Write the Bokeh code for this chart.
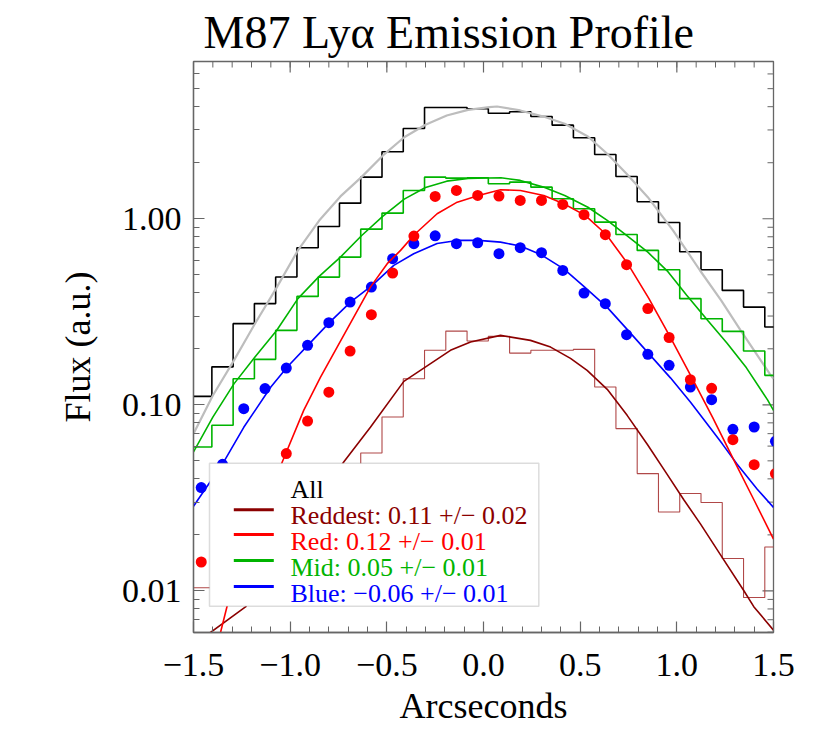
import math
import numpy as np
from bokeh.plotting import figure
from bokeh.models import (FixedTicker, CustomJSTickFormatter, BoxAnnotation, Label, Arrow)
from bokeh.embed import file_html
from bokeh.resources import INLINE

# ---------------- data ----------------
arcsec = [-1.46, -1.35, -1.24, -1.13, -1.02, -0.91, -0.80, -0.69, -0.58, -0.47,
          -0.36, -0.25, -0.14, -0.03, 0.08, 0.19, 0.30, 0.41, 0.52, 0.63,
          0.74, 0.85, 0.96, 1.07, 1.18, 1.29, 1.40, 1.51]

all_hist = [0.111, 0.160, 0.273, 0.350, 0.486, 0.699, 0.909, 1.213, 1.673, 2.290,
            3.055, 3.961, 3.961, 3.900, 3.690, 3.755, 3.543, 3.183, 2.723, 2.214,
            1.687, 1.234, 0.955, 0.665, 0.532, 0.412, 0.335, 0.262]

mid_hist = [0.0593, 0.0776, 0.1382, 0.1755, 0.2513, 0.3825, 0.4857, 0.622, 0.879, 1.072,
            1.419, 1.673, 1.652, 1.660, 1.542, 1.573, 1.478, 1.281, 1.132, 0.959,
            0.823, 0.676, 0.532, 0.372, 0.290, 0.248, 0.1945, 0.144]

reddest_hist = [0.0104, 0.012, 0.011, 0.016, 0.021, 0.026, 0.034, 0.041, 0.0551, 0.0860,
                0.1382, 0.1963, 0.249, 0.2201, 0.2333, 0.1897, 0.1963, 0.1963, 0.1987, 0.1246,
                0.0745, 0.0427, 0.02657, 0.03335, 0.02984, 0.01493, 0.00922, 0.01723]

red_pts = [0.0143, 0.019, 0.026, 0.037, 0.0547, 0.0818, 0.117, 0.1945, 0.305, 0.511,
           0.807, 1.318, 1.419, 1.334, 1.323, 1.254, 1.254, 1.193, 1.051, 0.821,
           0.566, 0.329, 0.230, 0.1365, 0.1227, 0.0650, 0.0477, 0.0427]

blue_pts = [0.0359, 0.0479, 0.0954, 0.1222, 0.1576, 0.2087, 0.2764, 0.3566, 0.4292, 0.6099,
            0.734, 0.810, 0.734, 0.743, 0.6486, 0.6986, 0.657, 0.5277, 0.3986, 0.3496,
            0.2382, 0.1867, 0.163, 0.1246, 0.1066, 0.0739, 0.076, 0.0637]

# fitted profiles
all_fit_x = [-1.50, -1.40, -1.29, -1.18, -1.07, -0.96, -0.85, -0.74, -0.63, -0.52,
             -0.41, -0.30, -0.19, -0.08, 0.03, 0.07, 0.19, 0.31, 0.42, 0.54,
             0.64, 0.74, 0.85, 0.98, 1.05, 1.12, 1.23, 1.33, 1.48, 1.50]
all_fit_y = [0.0700, 0.1122, 0.1738, 0.2754, 0.4266, 0.6761, 0.9772, 1.318, 1.679, 2.188,
             2.742, 3.199, 3.589, 3.846, 3.981, 4.009, 3.819, 3.540, 3.236, 2.767,
             2.234, 1.746, 1.306, 0.865, 0.676, 0.527, 0.363, 0.251, 0.147, 0.138]

mid_fit_x = [-1.50, -1.40, -1.29, -1.18, -1.07, -0.96, -0.85, -0.74, -0.63, -0.52,
             -0.41, -0.30, -0.19, -0.08, 0.02, 0.09, 0.19, 0.31, 0.42, 0.54,
             0.64, 0.74, 0.85, 0.95, 1.05, 1.16, 1.26, 1.36, 1.47, 1.50]
mid_fit_y = [0.0558, 0.0859, 0.130, 0.182, 0.251, 0.372, 0.490, 0.622, 0.813, 1.033,
             1.274, 1.472, 1.592, 1.644, 1.656, 1.660, 1.607, 1.479, 1.334, 1.153,
             0.979, 0.813, 0.661, 0.525, 0.389, 0.284, 0.214, 0.158, 0.106, 0.0933]

red_fit_x = [-1.40, -1.36, -1.326, -1.18, -1.041, -0.93, -0.843, -0.757, -0.671, -0.585,
             -0.498, -0.429, -0.357, -0.240, -0.136, -0.026, 0.088, 0.191, 0.312, 0.415,
             0.526, 0.635, 0.745, 0.855, 0.964, 1.074, 1.185, 1.295, 1.405, 1.50]
red_fit_y = [0.0043, 0.0060, 0.0083, 0.0205, 0.0493, 0.0934, 0.141, 0.2043, 0.296, 0.4292,
             0.5734, 0.676, 0.823, 1.064, 1.228, 1.334, 1.431, 1.419, 1.334, 1.204,
             1.042, 0.823, 0.575, 0.373, 0.2333, 0.1422, 0.0857, 0.0504, 0.02995, 0.0190]

blue_fit_x = [-1.50, -1.348, -1.24, -1.10, -1.015, -0.904, -0.795, -0.688, -0.576, -0.464,
              -0.361, -0.240, -0.136, -0.026, 0.088, 0.191, 0.295, 0.415, 0.519, 0.640,
              0.743, 0.855, 0.967, 1.071, 1.174, 1.235, 1.312, 1.416, 1.50]
blue_fit_y = [0.0285, 0.0485, 0.0757, 0.1246, 0.1596, 0.2113, 0.2784, 0.3566, 0.4384, 0.5613,
              0.6486, 0.7367, 0.7647, 0.7647, 0.7485, 0.7144, 0.6433, 0.5375, 0.4330, 0.3340,
              0.2544, 0.1884, 0.1396, 0.1031, 0.0748, 0.0617, 0.0479, 0.0352, 0.0281]

reddest_fit_x = [-1.50, -1.412, -1.231, -0.978, -0.723, -0.585, -0.412, -0.274, -0.171, -0.067,
                 0.088, 0.243, 0.347, 0.450, 0.536, 0.640, 0.743, 0.847, 0.950, 1.036,
                 1.122, 1.226, 1.346, 1.398, 1.50]
reddest_fit_y = [0.00506, 0.00598, 0.0082, 0.0202, 0.0493, 0.0757, 0.1337, 0.1665, 0.1963, 0.2175,
                 0.2362, 0.2220, 0.2043, 0.1777, 0.1532, 0.1211, 0.0878, 0.0614, 0.0423, 0.0309,
                 0.02292, 0.01562, 0.01005, 0.00823, 0.00615]

title_text = "M87 Ly\u03b1 Emission Profile"
legend_labels = ["All",
                 "Reddest: 0.11 +/\u2212 0.02",
                 "Red: 0.12 +/\u2212 0.01",
                 "Mid: 0.05 +/\u2212 0.01",
                 "Blue: \u22120.06 +/\u2212 0.01"]

x_major = [-1.5, -1.0, -0.5, 0.0, 0.5, 1.0, 1.5]
y_major = [0.01, 0.1, 1.0]

# ---------------- style ----------------
FONT = "Liberation Serif"
BLACK = "#000000"
GREY = "#bdbdbd"
GREEN = "#00b400"
RED = "#ff0000"
BLUE = "#0000ff"
DARKRED = "#8b0000"
DARKRED_HIST = "#b04848"
AXIS_COLOR = "#666666"
legend_colors = [BLACK, DARKRED, RED, GREEN, BLUE]

X0, X1 = -1.5, 1.5
Y0, Y1 = 0.005977, 6.998
FW, FH = 580, 571

x_minor = [round(-1.5 + 0.1 * i, 2) for i in range(31)]
y_minor = [m * d for d in (0.001, 0.01, 0.1, 1.0) for m in range(2, 10)]
y_minor = [v for v in y_minor if Y0 <= v <= Y1]


def staircase(centers, vals):
    c = np.asarray(centers, dtype=float)
    v = np.asarray(vals, dtype=float)
    half = np.diff(c).mean() / 2.0
    xs = np.column_stack([c - half, c + half]).ravel()
    ys = np.repeat(v, 2)
    return xs, ys


# frame-pixel -> data helpers (used only to place decorations: legend, mirror ticks)
def fx(px):
    return X0 + px / FW * (X1 - X0)


def fy(py):
    lt, lb = math.log10(Y1), math.log10(Y0)
    return 10 ** (lt - py / FH * (lt - lb))


p = figure(frame_width=FW, frame_height=FH, x_range=(X0, X1), y_range=(Y0, Y1),
           y_axis_type="log", output_backend="svg", toolbar_location=None,
           min_border_left=193, min_border_right=41, min_border_top=61,
           min_border_bottom=107, background_fill_color="white",
           border_fill_color="white")
p.outline_line_color = AXIS_COLOR
p.outline_line_width = 1.3
p.grid.visible = False

# title
p.title.text = title_text
p.title.text_font = FONT
p.title.text_font_size = "46px"
p.title.text_font_style = "normal"
p.title.text_color = BLACK
p.title.text_line_height = 1.0
p.title.align = "left"
p.title.offset = 10
p.title.standoff = 8

x_fmt = CustomJSTickFormatter(code="return (tick < -1e-9 ? '\u2212' : '') + Math.abs(tick).toFixed(1);")
y_fmt = CustomJSTickFormatter(code="return tick.toFixed(2);")


def style_axis(ax):
    ax.axis_line_color = AXIS_COLOR
    ax.axis_line_width = 1.3
    ax.major_tick_line_color = AXIS_COLOR
    ax.minor_tick_line_color = AXIS_COLOR
    ax.major_tick_line_width = 1.2
    ax.minor_tick_line_width = 1.0
    ax.major_tick_in = 11
    ax.major_tick_out = 0
    ax.minor_tick_in = 6
    ax.minor_tick_out = 0
    ax.major_label_text_font = FONT
    ax.major_label_text_font_size = "34px"
    ax.major_label_text_color = BLACK
    ax.axis_label_text_font = FONT
    ax.axis_label_text_font_size = "36px"
    ax.axis_label_text_font_style = "normal"
    ax.axis_label_text_color = BLACK


xa = p.xaxis[0]
xa.ticker = FixedTicker(ticks=x_major, minor_ticks=x_minor)
xa.formatter = x_fmt
xa.axis_label = "Arcseconds"
style_axis(xa)
xa.major_label_standoff = 21
xa.axis_label_standoff = 7

ya = p.yaxis[0]
ya.ticker = FixedTicker(ticks=y_major, minor_ticks=y_minor)
ya.formatter = y_fmt
ya.axis_label = "Flux (a.u.)"
style_axis(ya)
ya.major_label_standoff = 12
ya.axis_label_standoff = 21

# mirrored tick marks on the top and right frame edges (no labels)
top_minor_y1 = [fy(6)] * len(x_minor)
top_major_y1 = [fy(11)] * len(x_major)
p.segment(x0=x_minor, y0=[Y1] * len(x_minor), x1=x_minor, y1=top_minor_y1,
          line_color=AXIS_COLOR, line_width=1.0)
p.segment(x0=x_major, y0=[Y1] * len(x_major), x1=x_major, y1=top_major_y1,
          line_color=AXIS_COLOR, line_width=1.2)
p.segment(x0=[X1] * len(y_minor), y0=y_minor, x1=[fx(FW - 6)] * len(y_minor), y1=y_minor,
          line_color=AXIS_COLOR, line_width=1.0)
p.segment(x0=[X1] * len(y_major), y0=y_major, x1=[fx(FW - 11)] * len(y_major), y1=y_major,
          line_color=AXIS_COLOR, line_width=1.2)

# ---------------- marks ----------------
hx, hy = staircase(arcsec, all_hist)
p.line(hx, hy, line_color=BLACK, line_width=1.6)
p.line(all_fit_x, all_fit_y, line_color=GREY, line_width=2.2)

hx, hy = staircase(arcsec, mid_hist)
p.line(hx, hy, line_color=GREEN, line_width=1.6)
p.line(mid_fit_x, mid_fit_y, line_color=GREEN, line_width=1.6)

hx, hy = staircase(arcsec, reddest_hist)
p.line(hx, hy, line_color=DARKRED_HIST, line_width=1.1)
p.line(reddest_fit_x, reddest_fit_y, line_color=DARKRED, line_width=1.6)

p.line(blue_fit_x, blue_fit_y, line_color=BLUE, line_width=1.6)
p.scatter(arcsec, blue_pts, size=11, fill_color=BLUE, line_color=None)
p.line(red_fit_x, red_fit_y, line_color=RED, line_width=1.6)
p.scatter(arcsec, red_pts, size=11, fill_color=RED, line_color=None)

# ---------------- legend ----------------
box = BoxAnnotation(left=fx(16), right=fx(345.3), top=fy(401.7), bottom=fy(544.7),
                    fill_color="white", fill_alpha=1.0, line_color="#8c8c8c",
                    line_width=1.5, level="annotation")
p.add_layout(box)

sample_rows = [448.3, 473.0, 499.0, 525.0]
for yy, col in zip(sample_rows, legend_colors[1:]):
    p.add_layout(Arrow(end=None, x_start=fx(40.3), x_end=fx(80.3),
                       y_start=fy(yy), y_end=fy(yy), line_color=col,
                       line_width=3, level="annotation"))

text_rows = [428.3, 454.0, 479.7, 506.3, 532.3]
for yy, txt, col in zip(text_rows, legend_labels, legend_colors):
    p.add_layout(Label(x=fx(97), y=fy(yy), text=txt, text_color=col,
                       text_font=FONT, text_font_size="26px",
                       text_baseline="alphabetic", text_align="left",
                       level="annotation"))

open("out.html", "w").write(file_html(p, INLINE))
